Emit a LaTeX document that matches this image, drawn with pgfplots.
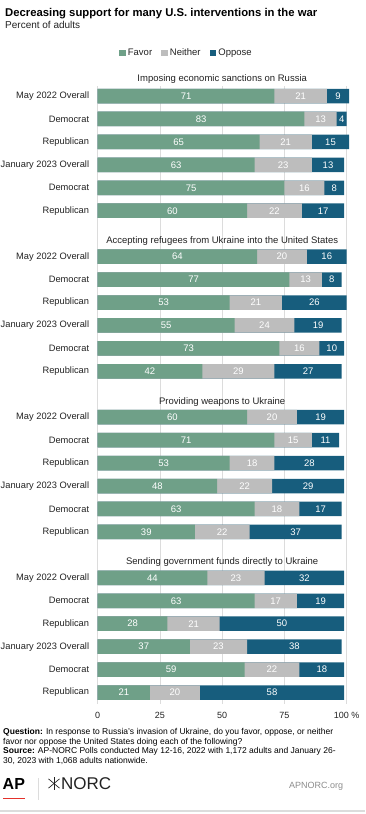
\documentclass[border=0pt]{standalone}
\usepackage{pgfplots}
\usepackage{pgfplotstable}
\pgfplotsset{compat=1.18}
\usepackage{fontspec}
\setmainfont{Liberation Sans}
\definecolor{favc}{HTML}{6FA088}
\definecolor{neic}{HTML}{BDBDBD}
\definecolor{oppc}{HTML}{175D7D}
\definecolor{gridc}{HTML}{DCDCDC}
\definecolor{txt}{HTML}{222222}
\definecolor{apred}{HTML}{E4312B}

\pgfplotstableread{
y f n o
0 71 21 9
1 83 13 4
2 65 21 15
3 63 23 13
4 75 16 8
5 60 22 17
7 64 20 16
8 77 13 8
9 53 21 26
10 55 24 19
11 73 16 10
12 42 29 27
14 60 20 19
15 71 15 11
16 53 18 28
17 48 22 29
18 63 18 17
19 39 22 37
21 44 23 32
22 63 17 19
23 28 21 50
24 37 23 38
25 59 22 18
26 21 20 58
}\data

\begin{document}
\begin{tikzpicture}
\begin{axis}[
  at={(97.7pt,110pt)}, anchor=south west,
  scale only axis, width=249pt, height=617.6pt,
  xmin=0, xmax=100, ymin=-0.42, ymax=26.5,
  y dir=reverse,
  clip=false,
  /pgf/number format/assume math mode=true,
  axis line style={draw=none},
  major tick length=0pt,
  tick style={draw=none},
  xmajorgrids,
  grid style={draw=gridc, line width=0.7pt},
  xtick={0,25,50,75,100},
  xticklabels={0,25,50,75,100 \%},
  xticklabel style={font=\fontsize{9}{10}\selectfont, text=txt, inner sep=0pt, anchor=north, yshift=-8.5pt},
  ytick={0,1,2,3,4,5,7,8,9,10,11,12,14,15,16,17,18,19,21,22,23,24,25,26},
  yticklabels={May 2022 Overall,Democrat,Republican,January 2023 Overall,Democrat,Republican,
               May 2022 Overall,Democrat,Republican,January 2023 Overall,Democrat,Republican,
               May 2022 Overall,Democrat,Republican,January 2023 Overall,Democrat,Republican,
               May 2022 Overall,Democrat,Republican,January 2023 Overall,Democrat,Republican},
  yticklabel style={font=\fontsize{9.3}{10}\selectfont, text=txt, inner sep=0pt, anchor=east, xshift=-8.4pt},
  legend columns=3,
  legend style={at={(0.355,1.054)}, anchor=center, draw=none, fill=none,
    font=\fontsize{9.5}{10}\selectfont, text=txt, inner sep=0pt,
    /tikz/every odd column/.style={column sep=0pt},
    /tikz/every even column/.style={column sep=8pt},
    nodes={inner sep=1.2pt}},
]
\addlegendimage{legend image code/.code={\fill[favc] (0pt,-2.6pt) rectangle (5.2pt,2.6pt); \path (7pt,0pt);}}
\addlegendimage{legend image code/.code={\fill[neic] (0pt,-2.6pt) rectangle (5.2pt,2.6pt); \path (7pt,0pt);}}
\addlegendimage{legend image code/.code={\fill[oppc] (0pt,-2.6pt) rectangle (5.2pt,2.6pt); \path (7pt,0pt);}}
\legend{Favor,Neither,Oppose}

\addplot[xbar, bar width=14.5pt, bar shift=0pt, fill=oppc, draw=none]
  table[x expr=\thisrow{f}+\thisrow{n}+\thisrow{o}, y=y]{\data};
\addplot[xbar, bar width=14.5pt, bar shift=0pt, fill=neic, draw=none]
  table[x expr=\thisrow{f}+\thisrow{n}, y=y]{\data};
\addplot[xbar, bar width=14.5pt, bar shift=0pt, fill=favc, draw=none]
  table[x=f, y=y]{\data};

\pgfplotsset{lbl/.style={draw=none, mark=none, nodes near coords, point meta=explicit,
  every node near coord/.style={anchor=center, text=white, font=\fontsize{9.5}{10}\selectfont, inner sep=0pt}}}
\addplot[lbl] table[x expr=\thisrow{f}/2, y=y, meta=f]{\data};
\addplot[lbl] table[x expr=\thisrow{f}+\thisrow{n}/2, y=y, meta=n]{\data};
\addplot[lbl] table[x expr=\thisrow{f}+\thisrow{n}+\thisrow{o}/2, y=y, meta=o]{\data};

\node[font=\fontsize{9.5}{10}\selectfont, text=txt] at (axis cs:50,-0.72) {Imposing economic sanctions on Russia};
\node[font=\fontsize{9.5}{10}\selectfont, text=txt] at (axis cs:50,6.32) {Accepting refugees from Ukraine into the United States};
\node[font=\fontsize{9.5}{10}\selectfont, text=txt] at (axis cs:50,13.32) {Providing weapons to Ukraine};
\node[font=\fontsize{9.5}{10}\selectfont, text=txt] at (axis cs:50,20.32) {Sending government funds directly to Ukraine};
\end{axis}

% title and subtitle
\node[anchor=base west, inner sep=0pt, font=\bfseries\fontsize{11.3}{12}\selectfont] at (5pt,797.3pt) {Decreasing support for many U.S. interventions in the war};
\node[anchor=base west, inner sep=0pt, font=\fontsize{10}{12}\selectfont, text=txt] at (5pt,785.5pt) {Percent of adults};

% footer notes
\begin{scope}[every node/.style={anchor=base west, inner sep=0pt, font=\fontsize{8.5}{9.5}\selectfont, text=black}]
\node at (3pt,79.3pt) {\textbf{Question:} In response to Russia’s invasion of Ukraine, do you favor, oppose, or neither};
\node at (3pt,69.8pt) {favor nor oppose the United States doing each of the following?};
\node at (3pt,60.3pt) {\textbf{Source:} AP-NORC Polls conducted May 12-16, 2022 with 1,172 adults and January 26-};
\node at (3pt,50.8pt) {30, 2023 with 1,068 adults nationwide.};
\end{scope}

% logos
\node[anchor=base west, inner sep=0pt, font=\bfseries\fontsize{16}{16}\selectfont] at (2.5pt,24pt) {AP};
\fill[apred] (3pt,14.7pt) rectangle (25pt,16.3pt);
\draw[gridc, line width=0.8pt] (38pt,14pt) -- (38pt,36pt);
\begin{scope}[shift={(54pt,30.5pt)}, line width=0.7pt]
\draw[txt] (0,-6.5pt) -- (0,6.5pt);
\draw[txt] (-5.5pt,-4.6pt) -- (5.5pt,4.6pt);
\draw[txt] (-5.5pt,4.6pt) -- (5.5pt,-4.6pt);
\end{scope}
\node[anchor=base west, inner sep=0pt, font=\fontsize{17}{17}\selectfont, text=txt] at (61pt,24pt) {NORC};
\node[anchor=base west, inner sep=0pt, font=\fontsize{9}{9}\selectfont, text=black!45] at (289pt,25pt) {APNORC.org};
\draw[gridc, line width=1.2pt] (0,3pt) -- (365pt,3pt);

\pgfresetboundingbox
\useasboundingbox (0,0) rectangle (365pt,814pt);
\end{tikzpicture}
\end{document}
